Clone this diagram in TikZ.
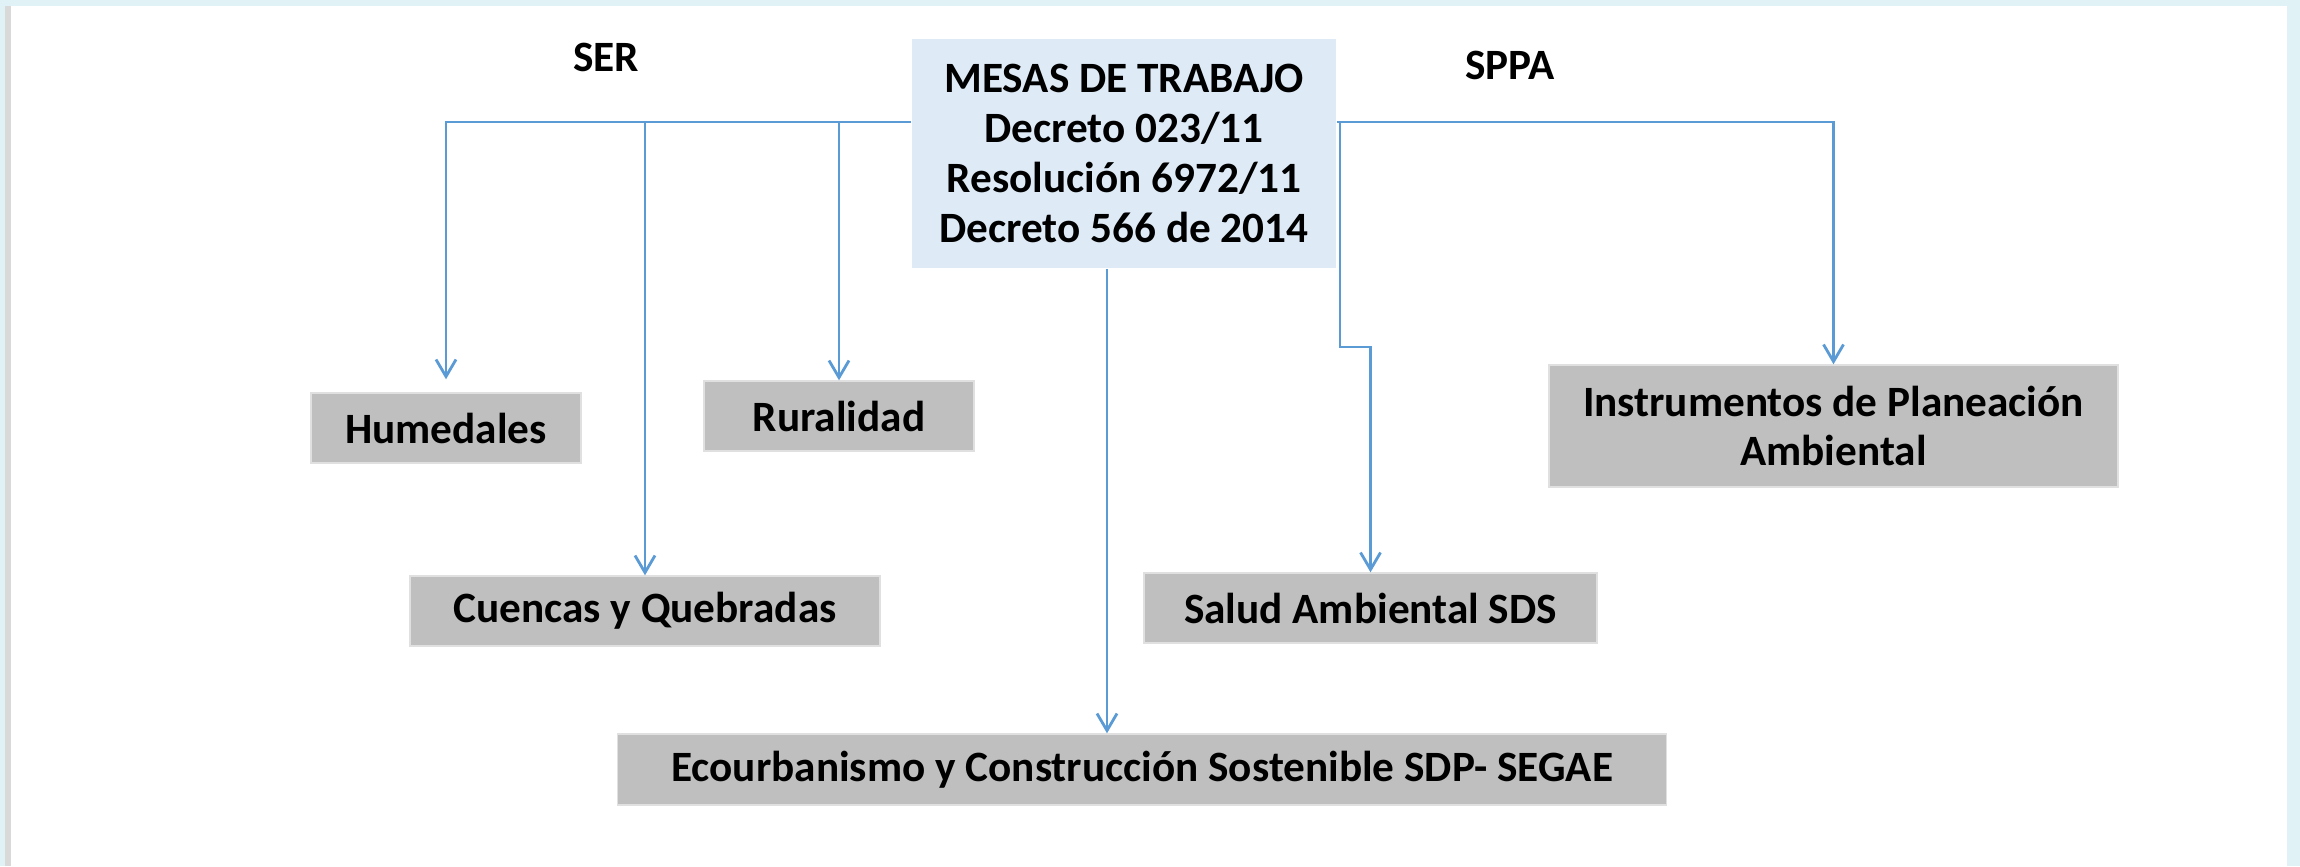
\documentclass[tikz,border=0pt]{standalone}
\usepackage{fontspec}
\setmainfont{Carlito}
\usetikzlibrary{arrows.meta}
\definecolor{fondo}{HTML}{E1F2F7}
\definecolor{azul}{HTML}{5B9BD5}
\definecolor{grisc}{HTML}{BFBFBF}
\definecolor{mesa}{HTML}{DEEBF7}

\begin{document}
\begin{tikzpicture}[x=0.01cm, y=-0.01cm,
    texto/.style={font=\fontsize{12.3}{14.2}\selectfont\bfseries, align=center, inner sep=0pt},
    caja/.style={texto, fill=grisc, draw=black!12, line width=0.4pt},
    linea/.style={draw=azul, line width=0.8pt},
    flecha/.style={linea, -{Straight Barb[length=0.17cm,width=0.2cm]}}]

      \fill[fondo] (0,0) rectangle (2300,866);
      \fill[white] (11,6) rectangle (2287,866);
      \fill[black!15] (5,6) rectangle (11,866);

      \node[texto](SER) at (606,57){SER};
      \node[texto](SPPA) at (1510,65){SPPA};

      \node[texto, fill=mesa, minimum width=4.24cm, minimum height=2.29cm](MESAS) at (1124,153.5){MESAS DE TRABAJO\\Decreto 023/11\\Resolución 6972/11\\Decreto 566 de 2014};

      \node[caja, minimum width=2.70cm, minimum height=0.70cm](Humedales) at (446,428){Humedales};
      \node[caja, minimum width=2.70cm, minimum height=0.70cm](Ruralidad) at (839,416){Ruralidad};
      \node[caja, minimum width=4.70cm, minimum height=0.70cm](Cuencas) at (645,611){Cuencas y Quebradas};
      \node[caja, minimum width=5.69cm, minimum height=1.22cm](Instrumentos) at (1833.5,426){Instrumentos de Planeación\\Ambiental};
      \node[caja, minimum width=4.53cm, minimum height=0.70cm](Salud) at (1370.5,608){Salud Ambiental SDS};
      \node[caja, minimum width=10.48cm, minimum height=0.71cm](Eco) at (1142,769.5){Ecourbanismo y Construcción Sostenible SDP- SEGAE};

      \coordinate (izq) at (446,122);
      \coordinate (der) at (1340,122);
      \coordinate (baja) at ([xshift=-0.17cm]MESAS.south);

      \draw[flecha, shorten >=0.13cm] (MESAS.west |- izq) -- (izq) -- (Humedales.north);
      \foreach \n in {Cuencas,Ruralidad} {
        \draw[flecha] (\n.north |- izq) -- (\n.north);
      }

      \draw[flecha] (MESAS.east |- der) -- (der -| Instrumentos.north) -- (Instrumentos.north);
      \draw[flecha] (der) -- ++(0,225) -| (Salud.north);
      \draw[flecha] (baja) -- (baja |- Eco.north);
    \end{tikzpicture}
\end{document}
